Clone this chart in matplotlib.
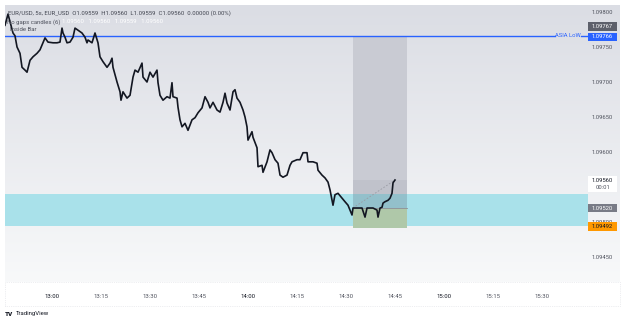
import numpy as np
import matplotlib.pyplot as plt
from matplotlib.patches import Rectangle
from matplotlib.transforms import blended_transform_factory

plt.rcParams['font.family'] = ['Roboto', 'DejaVu Sans']

# EUR/USD 5s closes, time in minutes after 12:45
minutes = [0.61, 1.53, 2.14, 3.06, 3.67, 4.29, 5.20, 5.82, 6.73, 7.35,
           8.27, 9.18, 10.41, 11.33, 12.24, 12.86, 13.78, 15.31, 16.53, 17.45,
           18.06, 18.37, 18.98, 19.59, 20.51, 21.43, 22.04, 22.96, 24.18, 25.10,
           25.71, 26.02, 27.24, 28.16, 29.08, 29.69, 30.61, 31.84, 32.76, 33.37,
           33.67, 34.90, 35.82, 36.12, 36.73, 37.96, 38.88, 39.80, 40.41, 41.33,
           42.55, 42.86, 44.08, 45.00, 45.92, 47.14, 47.45, 48.06, 48.98, 50.20,
           51.12, 51.73, 52.04, 53.27, 53.57, 54.18, 54.80, 55.71, 56.63, 57.86,
           58.78, 59.69, 60.92, 61.84, 62.76, 63.37, 64.29, 65.51, 66.43, 67.35,
           67.96, 68.57, 69.49, 70.41, 71.02, 71.63, 72.55, 73.47, 74.08, 74.69,
           75.00, 76.22, 76.53, 77.76, 78.06, 79.29, 79.59, 80.82, 81.73, 82.35,
           83.27, 84.18, 84.80, 85.71, 86.94, 87.86, 88.47, 90.00, 90.92, 91.84,
           93.06, 93.37, 94.90, 96.12, 96.43, 97.65, 98.57, 99.49, 100.10, 100.71,
           101.02, 101.63, 102.55, 103.78, 104.69, 105.61, 106.22, 106.84, 107.14, 108.67,
           109.90, 110.82, 111.43, 112.35, 113.27, 114.49, 114.80, 115.41, 116.02, 116.33,
           116.94, 117.86, 118.47, 119.08, 119.39, 120.00]
closes = [1.09781, 1.09797, 1.09786, 1.09770, 1.09766, 1.09750, 1.09741, 1.09721, 1.09717, 1.09714,
          1.09731, 1.09736, 1.09741, 1.09746, 1.09756, 1.09763, 1.09757, 1.09756, 1.09756, 1.09757,
          1.09777, 1.09770, 1.09764, 1.09756, 1.09757, 1.09764, 1.09777, 1.09774, 1.09770, 1.09764,
          1.09756, 1.09760, 1.09756, 1.09770, 1.09756, 1.09736, 1.09729, 1.09721, 1.09727, 1.09734,
          1.09721, 1.09700, 1.09686, 1.09674, 1.09686, 1.09677, 1.09681, 1.09707, 1.09717, 1.09714,
          1.09727, 1.09707, 1.09700, 1.09714, 1.09707, 1.09717, 1.09699, 1.09681, 1.09674, 1.09679,
          1.09677, 1.09699, 1.09679, 1.09677, 1.09664, 1.09646, 1.09636, 1.09641, 1.09631, 1.09646,
          1.09649, 1.09656, 1.09663, 1.09679, 1.09671, 1.09663, 1.09671, 1.09660, 1.09657, 1.09671,
          1.09684, 1.09670, 1.09660, 1.09686, 1.09689, 1.09677, 1.09671, 1.09660, 1.09650, 1.09636,
          1.09617, 1.09629, 1.09621, 1.09606, 1.09579, 1.09581, 1.09571, 1.09586, 1.09603, 1.09599,
          1.09589, 1.09584, 1.09567, 1.09564, 1.09567, 1.09581, 1.09586, 1.09589, 1.09589, 1.09599,
          1.09599, 1.09586, 1.09586, 1.09584, 1.09574, 1.09567, 1.09563, 1.09557, 1.09546, 1.09531,
          1.09524, 1.09539, 1.09541, 1.09534, 1.09529, 1.09524, 1.09517, 1.09510, 1.09520, 1.09520,
          1.09520, 1.09507, 1.09520, 1.09520, 1.09520, 1.09517, 1.09507, 1.09520, 1.09521, 1.09527,
          1.09529, 1.09531, 1.09534, 1.09541, 1.09556, 1.09560]

time_ticks = [15, 30, 45, 60, 75, 90, 105, 120, 135, 150, 165]
time_labels = ["13:00", "13:15", "13:30", "13:45", "14:00", "14:15",
               "14:30", "14:45", "15:00", "15:15", "15:30"]
price_ticks = [1.09800, 1.09750, 1.09700, 1.09650, 1.09600, 1.09500, 1.09450]

asia_low = 1.09766
zone_top, zone_bottom = 1.09540, 1.09494
entry, target, stop = 1.09520, 1.09492, 1.09766
last_close = 1.09560
pos_start, pos_end = 107.1, 123.7

W, H = 625, 323
fig = plt.figure(figsize=(W / 100, H / 100), dpi=100)
fig.patch.set_facecolor("white")

def fx(px):
    return px / W

def fy(py):
    return 1 - py / H

# background gradient behind chart + price scale
bg = fig.add_axes([fx(5), fy(282), fx(615), (282 - 5) / H], zorder=-2)
grad = np.linspace(0, 1, 256).reshape(-1, 1)
top_c = np.array([0xdb, 0xdd, 0xe4]) / 255
bot_c = np.array([0xf8, 0xf9, 0xfa]) / 255
img = top_c[None, None, :] * (1 - grad[:, :, None]) + bot_c[None, None, :] * grad[:, :, None]
bg.imshow(img, aspect="auto", extent=[0, 1, 0, 1])
bg.axis("off")

# time axis strip
fig.add_artist(Rectangle((fx(5), fy(306)), fx(615), 24 / H, transform=fig.transFigure,
                         facecolor="white", edgecolor="#dcdee3", lw=0.5, ls=":", zorder=-1))

ax = fig.add_axes([fx(5), fy(282), fx(583), (282 - 5) / H])
ax.set_facecolor("none")
ax.set_xlim(0.61, 179.08)
ax.set_ylim(1.094143, 1.0981)
for s in ax.spines.values():
    s.set_visible(False)
ax.set_xticks([])
ax.set_yticks([])

# demand zone
ax.add_patch(Rectangle((0.61, zone_bottom), 179.08 - 0.61, zone_top - zone_bottom,
                       facecolor="#a9e1ea", edgecolor="none", zorder=1))

# short position tool
pw = pos_end - pos_start
ax.add_patch(Rectangle((pos_start, last_close), pw, stop - last_close,
                       facecolor="#c9cbd3", edgecolor="none", zorder=2))
ax.add_patch(Rectangle((pos_start, zone_top), pw, last_close - zone_top,
                       facecolor="#c0c2cb", edgecolor="none", zorder=2))
ax.add_patch(Rectangle((pos_start, entry), pw, zone_top - entry,
                       facecolor="#93c0cb", edgecolor="none", zorder=2))
ax.add_patch(Rectangle((pos_start, target), pw, entry - target,
                       facecolor="#afc8a9", edgecolor="none", zorder=2))
ax.plot([pos_start, pos_end], [entry, entry], color="#8c8f98", lw=0.6, zorder=3)
ax.plot([pos_start, minutes[-1]], [entry, last_close], color="#9a9ca5", lw=0.6,
        ls=(0, (2, 2)), zorder=3)

# asia low line
ax.plot([0.61, 169.0], [asia_low, asia_low], color="#2962ff", lw=1.0, zorder=4)
ax.plot([176.8, 179.08], [asia_low, asia_low], color="#2962ff", lw=1.0, zorder=4)
ax.text(172.9, asia_low, "ASIA LoW", color="#2962ff", fontsize=4.2,
        ha="center", va="center", zorder=4)

# price line
ax.plot(minutes, closes, color="#131722", lw=1.2, zorder=5)

# legend rows
fig.text(fx(8), fy(13), "EUR/USD, 5s, EUR_USD  O1.09559  H1.09560  L1.09559  C1.09560  0.00000 (0.00%)",
         fontsize=4.3, color="#434651", va="center")
fig.text(fx(7), fy(21.7), "No gaps candles (6)", fontsize=4.3, color="#50535e", va="center")
fig.text(fx(62), fy(21.7), "1.09560   1.09560   1.09559   1.09560", fontsize=4.3,
         color="white", va="center")
fig.text(fx(10), fy(29.3), "Inside Bar", fontsize=4.3, color="#50535e", va="center")

# time labels
tx = blended_transform_factory(ax.transData, fig.transFigure)
for t, lab in zip(time_ticks, time_labels):
    c = "#131722" if lab.endswith(":00") else "#50535e"
    fig.text(t, fy(297), lab, transform=tx, fontsize=4.3, color=c, ha="center", va="center")

# price labels
py = blended_transform_factory(fig.transFigure, ax.transData)
for p in price_ticks:
    fig.text(fx(602), p, f"{p:.5f}", transform=py, fontsize=4.2, color="#50535e",
             ha="center", va="center", zorder=1)

def price_to_fig(p):
    return ax.transData.transform((0, p))[1] / fig.bbox.height

def tag(price, text, bg_c, fg_c, dy=0, h=8.5):
    # dy in pixels, positive = down
    yc = price_to_fig(price) - dy / H
    fig.add_artist(Rectangle((fx(588), yc - h / 2 / H), fx(29), h / H,
                             transform=fig.transFigure, facecolor=bg_c,
                             edgecolor="none", zorder=2))
    fig.text(fx(602.5), yc, text, fontsize=4.2, color=fg_c, ha="center",
             va="center", zorder=3)

tag(1.09767, "1.09767", "#5d606b", "white", dy=-8.5)
tag(asia_low, "1.09766", "#2962ff", "white", dy=1)
tag(entry, "1.09520", "#787b86", "white")
tag(target, "1.09492", "#ff9800", "#131722", dy=-1)

# last price box with countdown
yc = price_to_fig(last_close)
fig.add_artist(Rectangle((fx(588), yc - 12 / H), fx(29), 16 / H, transform=fig.transFigure,
                         facecolor="white", edgecolor="none", zorder=2))
fig.text(fx(602.5), yc, "1.09560", fontsize=4.2, color="#131722", ha="center", va="center", zorder=3)
fig.text(fx(602.5), yc - 7 / H, "00:01", fontsize=4.2, color="#50535e", ha="center", va="center", zorder=3)

# footer logo
fig.text(fx(5), fy(314), "TV", fontsize=4.6, weight="heavy", color="#131722", va="center")
fig.text(fx(16), fy(314), "TradingView", fontsize=4.3, color="#131722", va="center")

fig.savefig("out.png", dpi=100)
